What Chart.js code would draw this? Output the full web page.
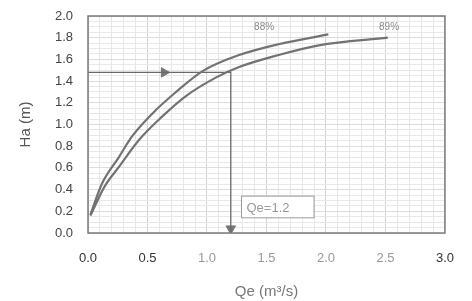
<!DOCTYPE html>
<html>
<head>
<meta charset="utf-8">
<script src="https://cdn.jsdelivr.net/npm/chart.js@4"></script>
<style>
  body { margin: 0; background: #fff; }
  #wrap { width: 472px; height: 301px; }
</style>
</head>
<body>
<div id="wrap"><canvas id="pumpChart"></canvas></div>
<script>
// curve data: Qe (m3/s) -> Ha (m)
const q88 = [0.02, 0.12, 0.26, 0.37, 0.54, 0.73, 0.96, 1.27, 1.6, 2.02];
const h88 = [0.17, 0.46, 0.70, 0.89, 1.10, 1.29, 1.49, 1.64, 1.74, 1.83];
const q89 = [0.02, 0.14, 0.26, 0.43, 0.62, 0.82, 1.07, 1.27, 1.6, 1.94, 2.52];
const h89 = [0.16, 0.43, 0.61, 0.86, 1.07, 1.26, 1.43, 1.53, 1.64, 1.73, 1.80];

// operating point guide
const guideQ = [0, 1.2, 1.2];
const guideH = [1.48, 1.48, 0];
const arrowQ = [0.64, 1.2];
const arrowH = [1.48, 0.04];
const arrowRot = [90, 180];

const curveLabels = ['88%', '89%'];
const curveLabelQ = [1.48, 2.53];
const curveLabelH = [1.90, 1.90];
const qaText = 'Qe=1.2';

const toPts = (xs, ys) => xs.map((x, i) => ({ x: x, y: ys[i] }));

const frameAndText = {
  id: 'frameAndText',
  afterDatasetsDraw(chart) {
    const { ctx, chartArea: a, scales: { x, y } } = chart;
    ctx.save();
    ctx.strokeStyle = '#7a7a7a';
    ctx.lineWidth = 1.5;
    ctx.strokeRect(a.left, a.top, a.right - a.left, a.bottom - a.top);

    ctx.fillStyle = '#8a8a8a';
    ctx.font = '10px "Liberation Sans", Arial, sans-serif';
    ctx.textAlign = 'center';
    ctx.textBaseline = 'middle';
    curveLabels.forEach((t, i) => {
      ctx.fillText(t, x.getPixelForValue(curveLabelQ[i]), y.getPixelForValue(curveLabelH[i]));
    });

    // Qe=1.2 box
    const bx = x.getPixelForValue(1.29), by = y.getPixelForValue(0.34);
    const bw = x.getPixelForValue(1.9) - bx, bh = y.getPixelForValue(0.14) - by;
    ctx.fillStyle = '#fff';
    ctx.fillRect(bx, by, bw, bh);
    ctx.strokeStyle = '#9a9a9a';
    ctx.lineWidth = 1;
    ctx.strokeRect(bx, by, bw, bh);
    ctx.fillStyle = '#9a9a9a';
    ctx.font = '13px "Liberation Sans", Arial, sans-serif';
    ctx.textAlign = 'left';
    ctx.fillText(qaText, bx + 5, by + bh / 2 + 1);
    ctx.restore();
  }
};

const near = (v, step) => Math.abs(v / step - Math.round(v / step)) < 1e-6;

new Chart(document.getElementById('pumpChart').getContext('2d'), {
  type: 'scatter',
  data: {
    datasets: [
      {
        data: toPts(q88, h88),
        showLine: true,
        borderColor: '#727272',
        borderWidth: 2.2,
        pointRadius: 0,
        cubicInterpolationMode: 'monotone'
      },
      {
        data: toPts(q89, h89),
        showLine: true,
        borderColor: '#727272',
        borderWidth: 2.2,
        pointRadius: 0,
        cubicInterpolationMode: 'monotone'
      },
      {
        data: toPts(guideQ, guideH),
        showLine: true,
        borderColor: '#6a6a6a',
        borderWidth: 1.3,
        pointRadius: 0,
        tension: 0
      },
      {
        data: toPts(arrowQ, arrowH),
        showLine: false,
        pointStyle: 'triangle',
        rotation: arrowRot,
        radius: 5.5,
        backgroundColor: '#777',
        borderColor: '#777',
        borderWidth: 1
      }
    ]
  },
  options: {
    responsive: true,
    maintainAspectRatio: false,
    animation: false,
    layout: { padding: { left: 17, right: 24, top: 16, bottom: 0 } },
    plugins: { legend: { display: false }, tooltip: { enabled: false } },
    scales: {
      x: {
        type: 'linear',
        min: 0,
        max: 3,
        afterFit: (s) => { s.height = 68; },
        border: { display: false },
        grid: {
          drawTicks: false,
          color: (c) => near(c.tick.value, 0.5) ? '#d2d2d2' : '#ebe6e6',
          lineWidth: 1
        },
        ticks: {
          stepSize: 0.1,
          autoSkip: false,
          maxRotation: 0,
          padding: 18,
          font: { family: '"Liberation Sans", Arial, sans-serif', size: 13 },
          color: (c) => {
            const v = c.tick.value;
            return (near(v, 0.5) && (v < 0.75 || v > 2.75)) ? '#333' : '#999';
          },
          callback: (v) => near(v, 0.5) ? v.toFixed(1) : ''
        },
        title: {
          display: true,
          text: 'Qe (m³/s)',
          color: '#777',
          font: { family: '"Liberation Sans", Arial, sans-serif', size: 15 },
          padding: { top: 0, bottom: 0 }
        }
      },
      y: {
        type: 'linear',
        min: 0,
        max: 2,
        afterFit: (s) => { s.width = 71; s.paddingTop = 8; s.paddingBottom = 8; },
        border: { display: false },
        grid: {
          drawTicks: false,
          color: (c) => near(c.tick.value, 0.2) ? '#dcdcdc' : '#ece7e7',
          lineWidth: 1
        },
        ticks: {
          stepSize: 0.05,
          autoSkip: false,
          padding: 15,
          font: { family: '"Liberation Sans", Arial, sans-serif', size: 13 },
          color: '#444',
          callback: (v) => near(v, 0.2) ? v.toFixed(1) : ''
        },
        title: {
          display: true,
          text: 'Ha (m)',
          color: '#555',
          font: { family: '"Liberation Sans", Arial, sans-serif', size: 15 },
          padding: { top: 0, bottom: 0 }
        }
      }
    }
  },
  plugins: [frameAndText]
});
</script>
</body>
</html>
